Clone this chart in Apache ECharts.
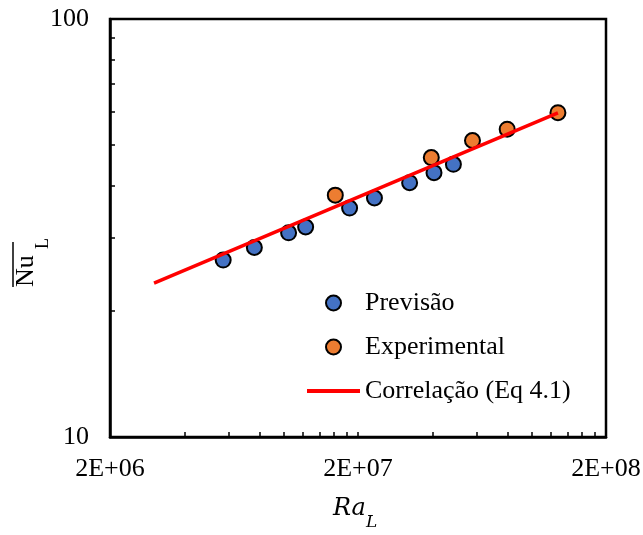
<!DOCTYPE html>
<html>
<head>
<meta charset="utf-8">
<script src="https://cdn.jsdelivr.net/npm/echarts@6/dist/echarts.min.js"></script>
<style>
html,body{margin:0;padding:0;background:#fff;}
#c{width:643px;height:535px;}
</style>
</head>
<body>
<div id="c"></div>
<script>
// ---- data ----
const prevRa = [5.72e6, 7.64e6, 1.05e7, 1.23e7, 1.85e7, 2.33e7, 3.23e7, 4.05e7, 4.85e7];
const prevNu = [26.5, 28.4, 30.8, 31.8, 35.3, 37.3, 40.6, 42.9, 44.9];
const expRa = [1.62e7, 3.95e7, 5.79e7, 7.99e7, 1.28e8];
const expNu = [37.9, 46.6, 51.2, 54.5, 59.7];
const corrRa = [3.01e6, 1.28e8];
const corrNu = [23.35, 59.6];
const seriesNames = ['Previsão', 'Experimental', 'Correlação (Eq 4.1)'];
const xLabelValues = [2e6, 2e7, 2e8];
const xTickLabels = ['2E+06', '2E+07', '2E+08'];
const xTickValues = [2e6, 4e6, 6e6, 8e6, 1e7, 1.2e7, 1.4e7, 1.6e7, 1.8e7, 2e7, 4e7, 6e7, 8e7, 1e8, 1.2e8, 1.4e8, 1.6e8, 1.8e8, 2e8];
const yLabelValues = [10, 100];
const yTickLabels = ['10', '100'];
const yTickValues = [10, 20, 30, 40, 50, 60, 70, 80, 90, 100];

const pairs = (xs, ys) => xs.map((x, i) => [x, ys[i]]);
const lookup = (vals, labels) => v => {
  const i = vals.findIndex(t => Math.abs(t - v) / t < 1e-6);
  return i >= 0 ? labels[i] : '';
};
const FONT = '"Liberation Serif", "Times New Roman", serif';

const chart = echarts.init(document.getElementById('c'), null, {renderer: 'canvas'});
chart.setOption({
  animation: false,
  backgroundColor: '#fff',
  grid: {
    left: 110, right: 37, top: 19, bottom: 98,
    show: true, borderColor: '#000', borderWidth: 2.5,
    containLabel: false, outerBoundsMode: 'none'
  },
  xAxis: {
    type: 'log', logBase: 10, min: 2e6, max: 2e8,
    axisLine: {show: true, lineStyle: {color: '#000', width: 2.5}},
    axisTick: {show: true, inside: true, length: 5, customValues: xTickValues, lineStyle: {color: '#000', width: 1.5}},
    axisLabel: {customValues: xLabelValues, formatter: lookup(xLabelValues, xTickLabels),
      color: '#000', fontFamily: FONT, fontSize: 26, margin: 19},
    splitLine: {show: false}, minorTick: {show: false}
  },
  yAxis: {
    type: 'log', logBase: 10, min: 10, max: 100,
    axisLine: {show: true, lineStyle: {color: '#000', width: 2.5}},
    axisTick: {show: true, inside: true, length: 5, customValues: yTickValues, lineStyle: {color: '#000', width: 1.5}},
    axisLabel: {customValues: yLabelValues, formatter: lookup(yLabelValues, yTickLabels),
      color: '#000', fontFamily: FONT, fontSize: 26, margin: 21},
    splitLine: {show: false}, minorTick: {show: false}
  },
  legend: {
    data: [
      {name: seriesNames[0]},
      {name: seriesNames[1]},
      {name: seriesNames[2], icon: 'path://M0,0H53V4H0Z'}
    ],
    orient: 'vertical', left: 302, top: 285,
    itemWidth: 53, itemHeight: 15, itemGap: 18,
    textStyle: {fontFamily: FONT, fontSize: 26, color: '#000'},
    selectedMode: false
  },
  series: [
    {name: seriesNames[0], type: 'scatter', data: pairs(prevRa, prevNu), symbol: 'circle', symbolSize: 15,
      itemStyle: {color: '#4472C4', borderColor: '#000', borderWidth: 2, opacity: 1}},
    {name: seriesNames[1], type: 'scatter', data: pairs(expRa, expNu), symbol: 'circle', symbolSize: 15,
      itemStyle: {color: '#ED7D31', borderColor: '#000', borderWidth: 2, opacity: 1}},
    {name: seriesNames[2], type: 'line', data: pairs(corrRa, corrNu), symbol: 'none', showSymbol: false,
      lineStyle: {color: '#FF0000', width: 3.5}, itemStyle: {color: '#FF0000'}}
  ],
  graphic: [
    {type: 'text', x: 333, y: 509, style: {text: 'Ra', font: 'italic 24px "DejaVu Serif", serif', fill: '#000', align: 'left', verticalAlign: 'middle'}},
    {type: 'text', x: 366, y: 523, style: {text: 'L', font: 'italic 17px "DejaVu Serif", serif', fill: '#000', align: 'left', verticalAlign: 'middle'}},
    {type: 'text', x: 26, y: 287, rotation: Math.PI / 2, style: {text: 'Nu', font: '26px "Liberation Serif", serif', fill: '#000', align: 'left', verticalAlign: 'middle'}},
    {type: 'text', x: 43, y: 249, rotation: Math.PI / 2, style: {text: 'L', font: '18px "Liberation Serif", serif', fill: '#000', align: 'left', verticalAlign: 'middle'}},
    {type: 'line', shape: {x1: 13, y1: 287, x2: 13, y2: 242}, style: {stroke: '#000', lineWidth: 1.5}}
  ]
});
</script>
</body>
</html>
